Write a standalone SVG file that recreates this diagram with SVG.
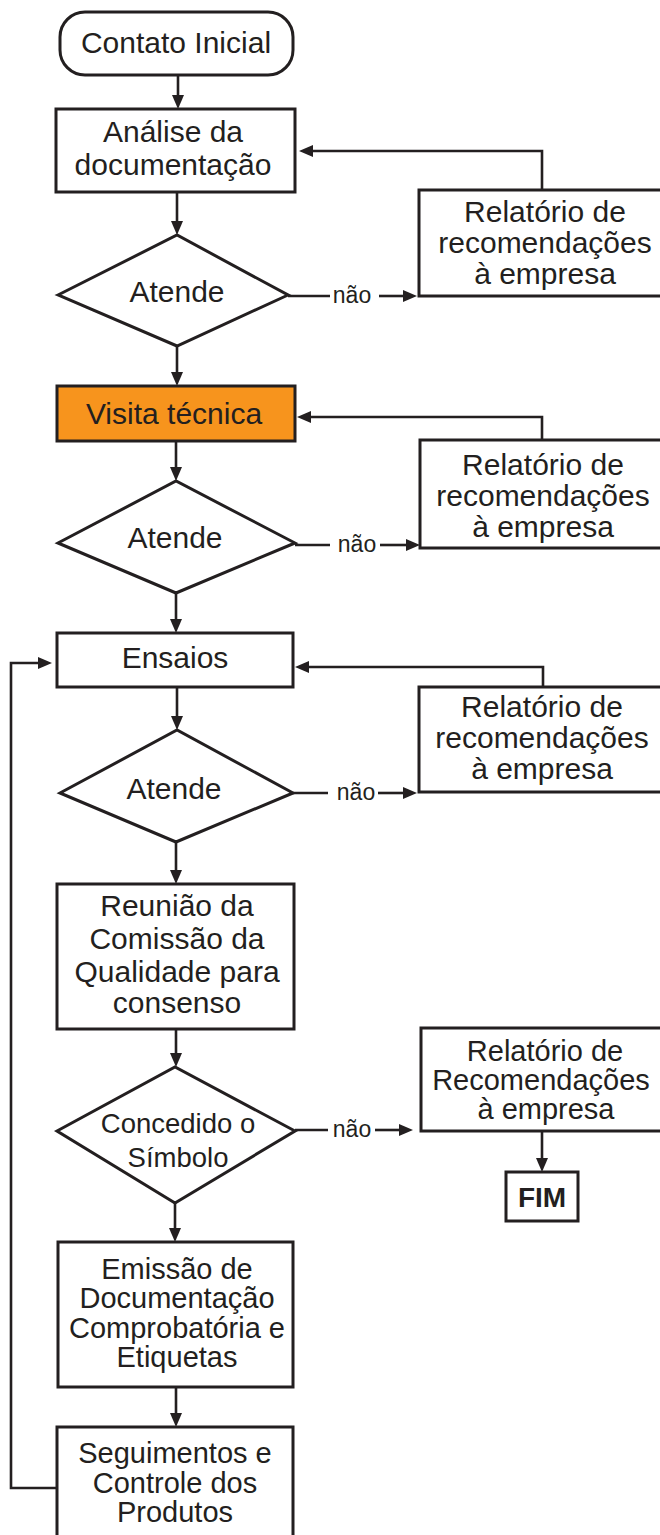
<svg xmlns="http://www.w3.org/2000/svg" width="660" height="1535" viewBox="0 0 660 1535">
<defs>
<marker id="ah" viewBox="0 0 14 12" refX="0" refY="6" markerWidth="14" markerHeight="12" orient="auto" markerUnits="userSpaceOnUse"><path d="M0,0 L14,6 L0,12 z" fill="#231f20"/></marker>
<style>
.box{fill:#fff;stroke:#231f20;stroke-width:3}
.orange{fill:#f7941d;stroke:#231f20;stroke-width:3}
.t{font-family:"Liberation Sans",Arial,sans-serif;font-size:30px;fill:#231f20;text-anchor:middle}
.e{font-family:"Liberation Sans",Arial,sans-serif;font-size:29px;fill:#231f20;text-anchor:middle}
.k{font-family:"Liberation Sans",Arial,sans-serif;font-size:27.5px;fill:#231f20;text-anchor:middle}
.s{font-family:"Liberation Sans",Arial,sans-serif;font-size:23px;fill:#231f20;text-anchor:middle}
.b{font-family:"Liberation Sans",Arial,sans-serif;font-size:28px;font-weight:bold;fill:#231f20;text-anchor:middle}
.c{fill:none;stroke:#231f20;stroke-width:2.6}
.a{fill:none;stroke:#231f20;stroke-width:2.6;marker-end:url(#ah)}
</style>
</defs>
<rect width="660" height="1535" fill="#fff"/>
<g id="connectors">
<path class="a" d="M178,75 V95"/>
<path class="a" d="M177,192 V221"/>
<path class="a" d="M177,346 V372"/>
<path class="a" d="M176,441 V467"/>
<path class="a" d="M176,593 V619"/>
<path class="a" d="M177,687 V716"/>
<path class="a" d="M176,842 V870"/>
<path class="a" d="M176,1029 V1053"/>
<path class="a" d="M175,1203 V1228"/>
<path class="a" d="M176,1387 V1413"/>
<path class="a" d="M542,1131 V1158"/>
<path class="c" d="M288,296 H330"/>
<path class="a" d="M379,296 H403"/>
<path class="c" d="M295,545 H330"/>
<path class="a" d="M380,545 H406"/>
<path class="c" d="M293,793 H328"/>
<path class="a" d="M378,793 H403"/>
<path class="c" d="M295,1130 H328"/>
<path class="a" d="M375,1130 H399"/>
<path class="a" d="M542,190 V151 H313"/>
<path class="a" d="M542,440 V417 H311"/>
<path class="a" d="M543,687 V667 H309"/>
<path class="a" d="M57,1488 H11 V663 H38"/>
<text class="s" x="352" y="303">não</text>
<text class="s" x="357" y="552">não</text>
<text class="s" x="356" y="800">não</text>
<text class="s" x="352" y="1137">não</text>
</g>
<g id="contato"><rect class="box" x="60" y="12" width="233" height="63" rx="25"/><text class="t" x="176" y="53">Contato Inicial</text></g>
<g id="analise"><rect class="box" x="56" y="109" width="239" height="83"/><text class="t" x="173" y="142">Análise da</text><text class="t" x="173" y="175">documentação</text></g>
<g id="atende1"><polygon class="box" points="58,295 177,235 288,295 177,346"/><text class="t" x="177" y="302">Atende</text></g>
<g id="relatorio1"><rect class="box" x="419" y="190" width="251" height="106"/><text class="t" x="545" y="222">Relatório de</text><text class="t" x="545" y="253">recomendações</text><text class="t" x="545" y="284">à empresa</text></g>
<g id="visita"><rect class="orange" x="57" y="386" width="238" height="55"/><text class="t" x="174" y="424">Visita técnica</text></g>
<g id="atende2"><polygon class="box" points="58,543 176,481 295,543 176,593"/><text class="t" x="175" y="548">Atende</text></g>
<g id="relatorio2"><rect class="box" x="420" y="440" width="250" height="108"/><text class="t" x="543" y="475">Relatório de</text><text class="t" x="543" y="506">recomendações</text><text class="t" x="543" y="537">à empresa</text></g>
<g id="ensaios"><rect class="box" x="57" y="633" width="236" height="54"/><text class="t" x="175" y="668">Ensaios</text></g>
<g id="relatorio3"><rect class="box" x="419" y="687" width="251" height="105"/><text class="t" x="542" y="717">Relatório de</text><text class="t" x="542" y="748">recomendações</text><text class="t" x="542" y="779">à empresa</text></g>
<g id="atende3"><polygon class="box" points="60,793 177,730 293,793 176,842"/><text class="t" x="174" y="799">Atende</text></g>
<g id="reuniao"><rect class="box" x="57" y="884" width="237" height="145"/><text class="t" x="177" y="916">Reunião da</text><text class="t" x="177" y="949">Comissão da</text><text class="t" x="177" y="982">Qualidade para</text><text class="t" x="177" y="1013">consenso</text></g>
<g id="concedido"><polygon class="box" points="57,1131 175,1067 295,1131 175,1203"/><text class="k" x="178" y="1133">Concedido o</text><text class="k" x="178" y="1167">Símbolo</text></g>
<g id="relatorio4"><rect class="box" x="421" y="1028" width="249" height="103"/><text class="e" x="545" y="1061">Relatório de</text><text class="e" x="541" y="1090">Recomendações</text><text class="e" x="546" y="1119">à empresa</text></g>
<g id="fim"><rect class="box" x="506" y="1172" width="72" height="49"/><text class="b" x="542" y="1207">FIM</text></g>
<g id="emissao"><rect class="box" x="58" y="1242" width="235" height="145"/><text class="e" x="177" y="1279">Emissão de</text><text class="e" x="177" y="1308">Documentação</text><text class="e" x="177" y="1337.5">Comprobatória e</text><text class="e" x="177" y="1366.5">Etiquetas</text></g>
<g id="seguimentos"><rect class="box" x="57" y="1427" width="236" height="120"/><text class="e" x="175" y="1463">Seguimentos e</text><text class="e" x="175" y="1493">Controle dos</text><text class="e" x="175" y="1522">Produtos</text></g>
</svg>
